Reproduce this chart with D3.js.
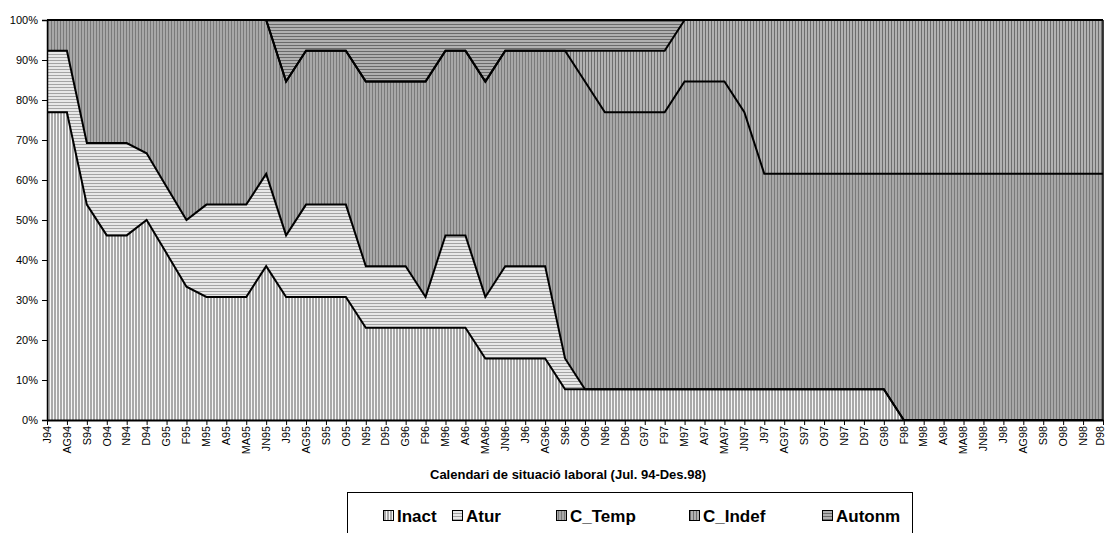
<!DOCTYPE html>
<html><head><meta charset="utf-8">
<script src="https://cdn.jsdelivr.net/npm/d3@7"></script>
<style>
body{margin:0;background:#fff;}
svg text{font-family:Arial,"Liberation Sans",sans-serif;}
</style>
</head><body>
<svg id="chart" width="1106" height="533"></svg>
<script>
const months = ["J94","AG94","S94","O94","N94","D94","G95","F95","M95","A95","MA95","JN95","J95","AG95","S95","O95","N95","D95","G96","F96","M96","A96","MA96","JN96","J96","AG96","S96","O96","N96","D96","G97","F97","M97","A97","MA97","JN97","J97","AG97","S97","O97","N97","D97","G98","F98","M98","A98","MA98","JN98","J98","AG98","S98","O98","N98","D98"];
const seriesNames = ["Inact","Atur","C_Temp","C_Indef","Autonm"];
// counts of people per month (13 people; 12 recorded in D94, G95, F95)
const inact  = [10,10,7,6,6,6,5,4,4,4,4,5,4,4,4,4,3,3,3,3,3,3,2,2,2,2,1,1,1,1,1,1,1,1,1,1,1,1,1,1,1,1,1,0,0,0,0,0,0,0,0,0,0,0];
const atur   = [2,2,2,3,3,2,2,2,3,3,3,3,2,3,3,3,2,2,2,1,3,3,2,3,3,3,1,0,0,0,0,0,0,0,0,0,0,0,0,0,0,0,0,0,0,0,0,0,0,0,0,0,0,0];
const cTemp  = [1,1,4,4,4,4,5,6,6,6,6,5,5,5,5,5,6,6,6,7,6,6,7,7,7,7,10,10,9,9,9,9,10,10,10,9,7,7,7,7,7,7,7,8,8,8,8,8,8,8,8,8,8,8];
const cIndef = [0,0,0,0,0,0,0,0,0,0,0,0,0,0,0,0,0,0,0,0,0,0,0,0,0,0,0,1,2,2,2,2,2,2,2,3,5,5,5,5,5,5,5,5,5,5,5,5,5,5,5,5,5,5];
const autonm = [0,0,0,0,0,0,0,0,0,0,0,0,2,1,1,1,2,2,2,2,1,1,2,1,1,1,1,1,1,1,1,1,0,0,0,0,0,0,0,0,0,0,0,0,0,0,0,0,0,0,0,0,0,0];
const yTicks = [0,0.1,0.2,0.3,0.4,0.5,0.6,0.7,0.8,0.9,1];
const xTitle = "Calendari de situació laboral (Jul. 94-Des.98)";

const table = months.map((m,i)=>({month:m, Inact:inact[i], Atur:atur[i], C_Temp:cTemp[i], C_Indef:cIndef[i], Autonm:autonm[i]}));

const svg = d3.select("#chart");
const L=47, R=1103, T=20, B=420;

// patterns
const defs = svg.append("defs");
const pat = [
  {id:"p0", dir:"v", bg:"#f6f6f6", fg:"#a8a8a8", w:3, lw:2},
  {id:"p1", dir:"h", bg:"#e8e8e8", fg:"#a4a4a4", w:3, lw:1},
  {id:"p2", dir:"v", bg:"#a8a8a8", fg:"#7a7a7a", w:3, lw:1},
  {id:"p3", dir:"v", bg:"#b2b2b2", fg:"#6e6e6e", w:3, lw:1},
  {id:"p4", dir:"h", bg:"#b0b0b0", fg:"#6a6a6a", w:3, lw:1}
];
pat.forEach(p=>{
  const g = defs.append("pattern").attr("id",p.id).attr("patternUnits","userSpaceOnUse")
    .attr("width",p.w).attr("height",p.w);
  g.append("rect").attr("width",p.w).attr("height",p.w).attr("fill",p.bg);
  if(p.dir==="v") g.append("rect").attr("x",0).attr("y",0).attr("width",p.lw).attr("height",p.w).attr("fill",p.fg);
  else g.append("rect").attr("x",0).attr("y",0).attr("width",p.w).attr("height",p.lw).attr("fill",p.fg);
});

const x = d3.scalePoint().domain(months).range([L,R]);
const y = d3.scaleLinear().domain([0,1]).range([B,T]);

const stack = d3.stack().keys(seriesNames).offset(d3.stackOffsetExpand);
const layers = stack(table);

const area = d3.area().x(d=>x(d.data.month)).y0(d=>y(d[0])).y1(d=>y(d[1]));
const line = d3.line().x(d=>x(d.data.month)).y(d=>y(d[1]));

svg.append("g").selectAll("path").data(layers).join("path")
  .attr("d",area).attr("fill",(d,i)=>`url(#p${i})`).attr("stroke","none");

svg.append("g").selectAll("path").data(layers).join("path")
  .attr("d",line).attr("fill","none").attr("stroke","#000").attr("stroke-width",2).attr("stroke-linejoin","miter");

// right edge
svg.append("line").attr("x1",R).attr("x2",R).attr("y1",y(0)).attr("y2",y(1)).attr("stroke","#000").attr("stroke-width",1.5);

// axes
const yAxis = d3.axisLeft(y).tickValues(yTicks).tickFormat(d3.format(".0%")).tickSize(5).tickPadding(4);
const gy = svg.append("g").attr("transform",`translate(${L},0)`).call(yAxis);
gy.select(".domain").attr("stroke","#000").attr("stroke-width",1.5);
gy.selectAll(".tick line").attr("stroke","#000");
gy.selectAll("text").attr("font-size",11).attr("fill","#000").style("font-family","Arial,'Liberation Sans',sans-serif");

const xAxis = d3.axisBottom(x).tickSize(5).tickSizeOuter(0);
const gx = svg.append("g").attr("transform",`translate(0,${B})`).call(xAxis);
gx.select(".domain").attr("stroke","#000").attr("stroke-width",2);
gx.selectAll(".tick line").attr("stroke","#000");
gx.selectAll("text").attr("font-size",10.8).attr("fill","#000")
  .style("font-family","Arial,'Liberation Sans',sans-serif")
  .attr("text-anchor","end").attr("transform","rotate(-90)")
  .attr("x",-6).attr("y",0).attr("dy",(d,i)=> i===months.length-1 ? "0.05em" : "0.3em");

svg.append("text").attr("x",568).attr("y",479).attr("text-anchor","middle")
  .attr("font-size",13).attr("font-weight","bold").attr("fill","#000").text(xTitle);

// legend
const lg = svg.append("g");
lg.append("rect").attr("x",347.5).attr("y",492.5).attr("width",565).attr("height",60)
  .attr("fill","#fff").attr("stroke","#000").attr("stroke-width",1);
const legX = [383,452,556,689,822];
seriesNames.forEach((n,i)=>{
  lg.append("rect").attr("x",legX[i]+0.5).attr("y",510.5).attr("width",10).attr("height",10)
    .attr("fill",`url(#p${i})`).attr("stroke","#000").attr("stroke-width",1);
  lg.append("text").attr("x",legX[i]+14).attr("y",522).attr("font-size",17).attr("font-weight","bold")
    .attr("fill","#000").text(n);
});
</script>
</body></html>
